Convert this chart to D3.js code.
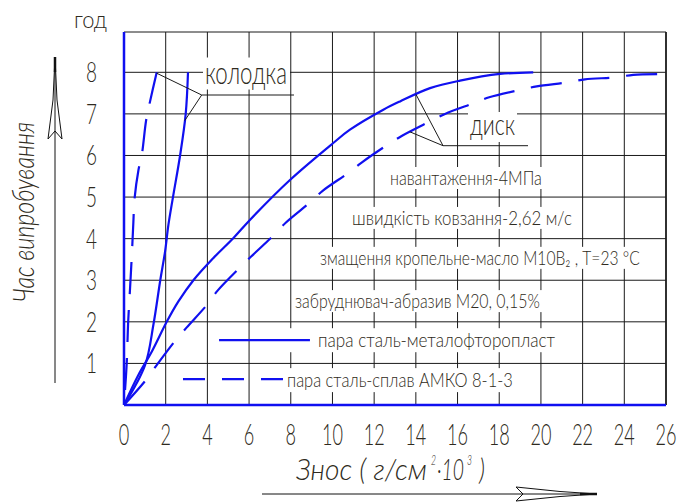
<!DOCTYPE html>
<html>
<head>
<meta charset="utf-8">
<script src="https://cdnjs.cloudflare.com/ajax/libs/d3/7.8.5/d3.min.js"></script>
<style>
  body { margin: 0; background: #fff; }
  text { font-family: Lato, "DejaVu Sans", sans-serif; font-weight: 300; fill: #2e2a20; }
</style>
</head>
<body>
<script>
// wear of pad (колодка) and disc (диск) vs. test time

var xTicks = [0, 2, 4, 6, 8, 10, 12, 14, 16, 18, 20, 22, 24, 26];
var yTicks = [1, 2, 3, 4, 5, 6, 7, 8];

// [wear, hours]
var padSolid = [[0,0],[1.01,0.96],[1.41,1.93],[1.74,3],[1.97,3.69],[2.13,4.33],[2.35,5],[2.69,6],[2.96,7],[3.07,8]];
var padDashed = [[0,0],[0.13,1],[0.2,2],[0.29,2.8],[0.38,3.65],[0.45,4.4],[0.5,4.93],[0.69,5.64],[0.85,6],[1.06,6.84],[1.21,7.21],[1.57,8]];
var discSolid = [[0,0],[0.69,0.72],[1.33,1.28],[2.05,2.0],[2.61,2.49],[3.33,3.0],[4.28,3.53],[5.24,4.01],[6.04,4.45],[7.96,5.41],
  [10.04,6.3],[10.84,6.62],[12.44,7.1],[13.24,7.3],[14.68,7.62],[16.12,7.8],[18.04,7.96],[19.63,8.0]];
var discDashed = [[0,0],[1.05,0.6],[1.57,0.96],[2.45,1.54],[3.0,1.86],[4.0,2.42],[4.49,2.75],[5.53,3.29],[6.1,3.57],[7.2,4.09],
  [7.77,4.39],[8.92,4.87],[9.53,5.15],[10.73,5.57],[11.4,5.83],[12.65,6.26],[13.32,6.47],[14.68,6.82],[15.4,7.0],[16.79,7.26],
  [17.52,7.4],[19.03,7.58],[19.8,7.66],[21.32,7.76],[22.11,7.83],[23.63,7.88],[24.43,7.94],[26,7.96]];

var notes = ["навантаження-4МПа", "швидкість ковзання-2,62 м/с", "змащення кропельне-масло М10В₂ , Т=23 °С", "забруднювач-абразив М20, 0,15%"];
var legendLabels = ["пара сталь-металофторопласт", "пара сталь-сплав АМКО 8-1-3"];
var yTitle = "Час випробування";
var yUnit = "год";

// text placement in data units: [x start, x end, baseline y]
var noteLayout = [[12.76, 20.05, 5.29], [10.94, 21.49, 4.33], [9.40, 24.75, 3.37], [8.20, 19.96, 2.33]];
var legendLayout = [[9.31, 20.68, 1.39], [7.82, 18.66, 0.43]];

var width = 684, height = 502;
var svg = d3.select("body").append("svg").attr("width", width).attr("height", height);

var x = d3.scaleLinear().domain([0, 26]).range([124, 666]);
var y = d3.scaleLinear().domain([0, 8]).range([405, 72.3]);
var yTop = 32;

var blue = "#1010f0";

// grid
var grid = svg.append("g").attr("stroke", "#1a1a1a").attr("stroke-width", 1);
grid.selectAll(".vx").data(xTicks.slice(1, -1)).enter().append("line")
  .attr("x1", function(d) { return x(d); }).attr("x2", function(d) { return x(d); })
  .attr("y1", yTop).attr("y2", y(0));
grid.selectAll(".hy").data(yTicks).enter().append("line")
  .attr("x1", x(0)).attr("x2", x(26))
  .attr("y1", function(d) { return y(d); }).attr("y2", function(d) { return y(d); });
grid.append("line").attr("x1", x(0)).attr("x2", x(26)).attr("y1", yTop).attr("y2", yTop);
grid.append("line").attr("x1", x(26)).attr("x2", x(26)).attr("y1", yTop).attr("y2", y(0)).attr("stroke-width", 1.8);

// white boxes behind the texts
function box(x0, x1, yb, up, down) {
  svg.append("rect").attr("x", x0).attr("y", yb - up).attr("width", x1 - x0).attr("height", up + down).attr("fill", "#fff");
}
noteLayout.forEach(function(p, i) { box(x(p[0]) - (i == 3 ? 2 : 5), x(p[1]) + 4, y(p[2]), 18, 4); });
box(x(legendLayout[0][0]) - 36, x(legendLayout[0][1]) + 5, y(legendLayout[0][2]), 19, 5);
box(x(legendLayout[1][0]) - 3, x(legendLayout[1][1]) + 5, y(legendLayout[1][2]), 19, 5);
box(203, 290, 83.5, 26, 6);
box(468, 517, 135, 23, 7);

// curves
var line = d3.line()
  .x(function(d) { return x(d[0]); })
  .y(function(d) { return y(d[1]); })
  .curve(d3.curveCatmullRom.alpha(0.5));

[[padSolid, null], [padDashed, [32, 16]], [discSolid, null], [discDashed, [31, 17]]].forEach(function(s) {
  var p = svg.append("path").datum(s[0])
    .attr("fill", "none")
    .attr("stroke", blue)
    .attr("stroke-width", 2.2)
    .attr("d", line);
  if (s[1]) {
    // line the pattern up so the curve ends on a full dash
    var L = p.node().getTotalLength(), P = s[1][0] + s[1][1];
    var off = ((s[1][0] - L % P) % P + P) % P;
    p.attr("stroke-dasharray", s[1].join(",")).attr("stroke-dashoffset", s[0] === padDashed ? off : 0);
  }
});

// blue axes
svg.append("line").attr("x1", x(0)).attr("x2", x(0)).attr("y1", yTop).attr("y2", y(0)).attr("stroke", blue).attr("stroke-width", 2.5);
svg.append("line").attr("x1", x(0)).attr("x2", x(26)).attr("y1", y(0)).attr("y2", y(0)).attr("stroke", blue).attr("stroke-width", 2.5);

// text helper: squeeze the text to a given width (narrow drafting look)
function label(str, tx, ty, size, len, opts) {
  opts = opts || {};
  var t = svg.append("text").attr("x", 0).attr("y", 0)
    .style("font-size", size + "px")
    .attr("text-anchor", opts.anchor || "start")
    .text(str);
  if (opts.italic) t.style("font-style", "italic");
  var w = t.node().getComputedTextLength();
  var sx = len ? len / w : 1;
  t.attr("transform", "translate(" + tx + "," + ty + ")" + (opts.rotate ? " rotate(" + opts.rotate + ")" : "") + " scale(" + sx + ",1)");
  return t;
}

// tick labels
xTicks.forEach(function(d) {
  label(String(d), x(d), 445, 30, String(d).length * 10.5, {anchor: "middle"});
});
yTicks.forEach(function(d) {
  label(String(d), 91.5, y(d) + 10, 28, 11, {anchor: "middle"});
});

// notes and legend
notes.forEach(function(s, i) {
  var p = noteLayout[i];
  label(s, x(p[0]), y(p[2]), 19.5, x(p[1]) - x(p[0]));
});
legendLabels.forEach(function(s, i) {
  var p = legendLayout[i];
  label(s, x(p[0]), y(p[2]), 19.5, x(p[1]) - x(p[0]));
});
svg.append("line").attr("x1", x(4.56)).attr("x2", x(8.92)).attr("y1", y(1.56)).attr("y2", y(1.56))
  .attr("stroke", blue).attr("stroke-width", 2.2);
svg.append("line").attr("x1", x(2.83)).attr("x2", x(7.63)).attr("y1", y(0.62)).attr("y2", y(0.62))
  .attr("stroke", blue).attr("stroke-width", 2.2).attr("stroke-dasharray", "22,17");

// curve names with leaders
function xAt(series, yv) {
  for (var i = 0; i < series.length - 1; i++) {
    var a = series[i], b = series[i + 1];
    if (yv >= a[1] && yv <= b[1]) return a[0] + (b[0] - a[0]) * (yv - a[1]) / (b[1] - a[1]);
  }
  return series[series.length - 1][0];
}
var lead = svg.append("g").attr("stroke", "#1a1a1a").attr("stroke-width", 1).attr("fill", "none");
function leader(px, py, targets, x2) {
  lead.append("line").attr("x1", px).attr("x2", x2).attr("y1", py).attr("y2", py);
  targets.forEach(function(t) {
    lead.append("line").attr("x1", px).attr("y1", py).attr("x2", x(xAt(t[0], t[1]))).attr("y2", y(t[1]));
  });
}
leader(201.7, 95, [[padDashed, 7.98], [padSolid, 6.84]], 294);
leader(443, 145.7, [[discSolid, 7.47], [discDashed, 6.57]], 528);
label("колодка", 205, 83.5, 31, 82);
label("диск", 470, 135, 29, 45);

// axis titles
label(yUnit, 74, 27.5, 24, 33);
label(yTitle, 34, 212, 29, 180, {anchor: "middle", italic: true, rotate: -90});
label("Знос ( г/см", 296, 480, 29, 131, {italic: true});
label("2", 431, 465, 14, 5, {italic: true});
label("·10", 437, 480, 29, 27, {italic: true});
label("3", 467, 465, 14, 5, {italic: true});
label(")", 479, 480, 29, 6, {italic: true});

// arrows
var arr = svg.append("g").attr("stroke", "#111").attr("fill", "#fff").attr("stroke-width", 1);
arr.append("path").attr("d", "M55,57 L57,100 L62,139 L55,131 L48,139 L53,100 Z");
arr.append("line").attr("x1", 55).attr("x2", 55).attr("y1", 57).attr("y2", 383);
arr.append("line").attr("x1", 55).attr("x2", 55).attr("y1", 57).attr("y2", 72).attr("stroke-width", 2.5);
arr.append("path").attr("d", "M597,494 L560,491.5 L516,487 L523,494 L516,501 L560,496.5 Z");
arr.append("line").attr("x1", 262).attr("x2", 597).attr("y1", 494).attr("y2", 494);
arr.append("line").attr("x1", 580).attr("x2", 597).attr("y1", 494).attr("y2", 494).attr("stroke-width", 2.5);
</script>
</body>
</html>
